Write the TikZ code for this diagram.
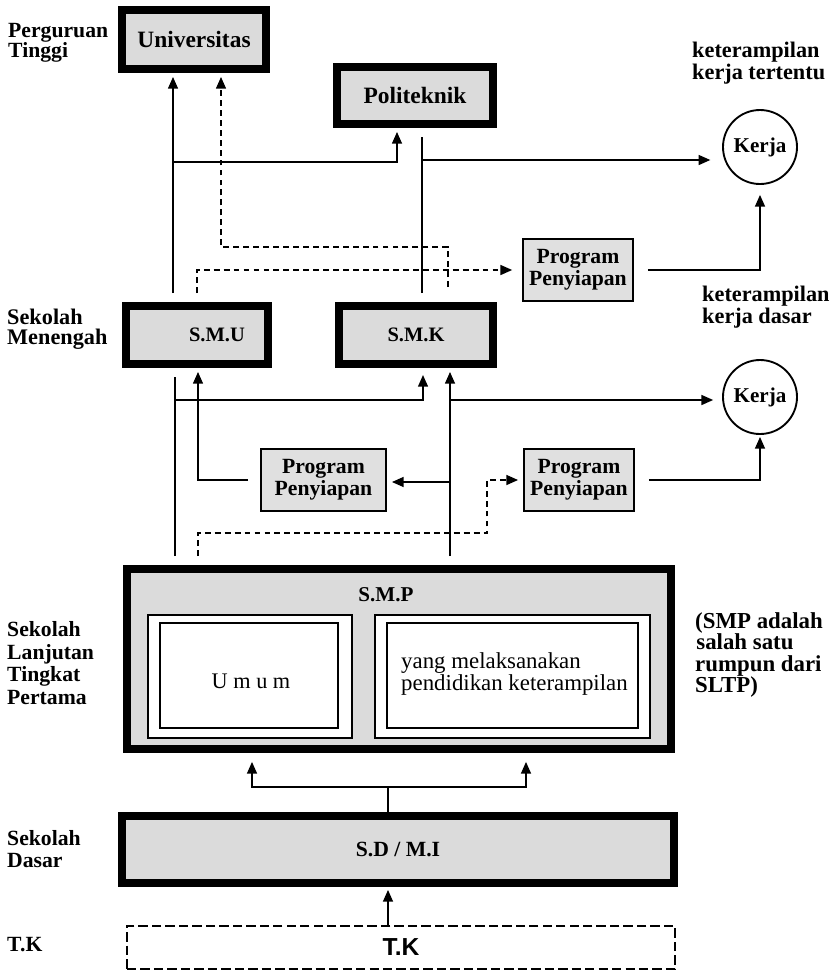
\documentclass[tikz,border=0pt]{standalone}
\usepackage{fontspec}
\setmainfont{Liberation Serif}
\newfontfamily\tksans{Liberation Sans}
\usetikzlibrary{arrows.meta}

\begin{document}
\begin{tikzpicture}[x=0.03cm,y=-0.03cm,
  thickbox/.style={draw, line width=6.8pt, fill=black!14, inner sep=0pt, font=\bfseries\fontsize{17.5}{17.5}\selectfont},
  progbox/.style={draw, line width=1.5pt, fill=black!12, inner sep=0pt, minimum width=3.3cm, minimum height=1.86cm, align=center, font=\bfseries\fontsize{18.5}{18.7}\selectfont},
  kerjanode/.style={draw, circle, line width=1.6pt, minimum size=2.22cm, inner sep=0pt, font=\bfseries\fontsize{18}{18}\selectfont},
  lbl/.style={anchor=west, align=left, inner sep=0pt, font=\bfseries\fontsize{18.5}{19.5}\selectfont},
  conn/.style={line width=1.3pt},
  arr/.style={conn, -{Triangle[length=10pt,width=8.5pt]}},
  dconn/.style={conn, dash pattern=on 5pt off 3.5pt},
  darr/.style={dconn, -{Triangle[length=10pt,width=8.5pt]}},
  subframe/.style={draw, line width=1.2pt, fill=white},
]
\fill[white] (0,0) rectangle (838,972);
\useasboundingbox (0,0) rectangle (838,972);

% boxes
\node[thickbox, minimum width=4.32cm, minimum height=1.77cm, font=\bfseries\fontsize{20}{20}\selectfont] (Univ) at (194,39.5) {Universitas};
\node[thickbox, minimum width=4.68cm, minimum height=1.71cm, font=\bfseries\fontsize{20}{20}\selectfont] (Poli) at (415,95.5) {Politeknik};
\node[thickbox, minimum width=4.26cm, minimum height=1.74cm] (SMU) at (197,335) {};
\node[font=\bfseries\fontsize{17.5}{17.5}\selectfont, inner sep=0pt] (SMUtxt) at (217,335) {S.M.U};
\node[thickbox, minimum width=4.62cm, minimum height=1.74cm] (SMK) at (416,335) {S.M.K};
\node[thickbox, minimum width=16.32cm, minimum height=5.4cm] (SMP) at (399,659) {};
\node[font=\bfseries\fontsize{18}{18}\selectfont, inner sep=0pt] (SMPtxt) at (386,595) {S.M.P};
\node[thickbox, minimum width=16.56cm, minimum height=2.01cm, font=\bfseries\fontsize{18.5}{18.5}\selectfont] (SD) at (398,849.5) {S.D / M.I};
\node[draw, line width=1.3pt, dash pattern=on 8pt off 3.5pt, minimum width=16.44cm, minimum height=1.29cm, inner sep=0pt, font=\tksans\bfseries\fontsize{21}{21}\selectfont] (TK) at (401,947.5) {T.K};

% inner frames of SMP
\draw[subframe] (148,615) rectangle (352,738);
\draw[subframe] (160,623) rectangle (338,728);
\draw[subframe] (375,615) rectangle (650,738);
\draw[subframe] (387,623) rectangle (638,728);
\node[inner sep=0pt, font=\fontsize{19}{19}\selectfont] (Umum) at (251,681) {U m u m};
\node[anchor=west, align=left, inner sep=0pt, font=\fontsize{19.5}{16.8}\selectfont] (Ket) at (401,674) {yang melaksanakan\\pendidikan keterampilan};

% program boxes
\node[progbox] (PP1) at (578,270) {Program\\Penyiapan};
\node[progbox, minimum width=3.75cm] (PP2) at (323.5,480) {Program\\Penyiapan};
\node[progbox] (PP3) at (579,480) {Program\\Penyiapan};

% kerja circles
\node[kerjanode] (K1) at (760,147) {Kerja};
\node[kerjanode] (K2) at (760,397) {Kerja};

% labels
\node[lbl, font=\bfseries\fontsize{18.5}{17.5}\selectfont] (LPT) at (8,43) {Perguruan\\Tinggi};
\node[lbl, font=\bfseries\fontsize{19}{17.5}\selectfont] (LSM) at (7,329) {Sekolah\\Menengah};
\node[lbl] (LSLTP) at (7,663) {Sekolah\\Lanjutan\\Tingkat\\Pertama};
\node[lbl] (LSD) at (7,849) {Sekolah\\Dasar};
\node[lbl] (LTK) at (7,945) {T.K};
\node[lbl, font=\bfseries\fontsize{19}{18.7}\selectfont] (LKT) at (692,63) {keterampilan\\kerja tertentu};
\node[lbl, font=\bfseries\fontsize{19}{18.7}\selectfont] (LKD) at (702,307) {keterampilan\\kerja dasar};
\node[lbl, font=\bfseries\fontsize{19.5}{18.4}\selectfont] (LSMP) at (695,655) {(SMP adalah\\\hspace*{1pt}salah satu\\rumpun dari\\SLTP)};

% column and junction coordinates
\coordinate (c173) at (173,0);
\coordinate (c175) at (175,0);
\coordinate (c197) at (197,0);
\coordinate (c198) at (198,0);
\coordinate (c252) at (252,0);
\coordinate (c388) at (388,0);
\coordinate (c397) at (397,0);
\coordinate (c422) at (422,0);
\coordinate (c423) at (423,0);
\coordinate (c448) at (448,0);
\coordinate (c450) at (450,0);
\coordinate (c526) at (526,0);
\coordinate (j1) at (173,162);
\coordinate (j2) at (422,160);
\coordinate (j3) at (221,247);
\coordinate (j4) at (175,400);
\coordinate (j5) at (450,400);
\coordinate (j6) at (450,482);
\coordinate (j7) at (487,533);
\coordinate (j8) at (388,787);

% top connectors
\draw[arr, shorten <=7.6pt, shorten >=3.4pt] (SMU.north -| c173) -- (Univ.south -| c173);
\draw[arr, shorten >=3.4pt] (j1) -| (Poli.south -| c397);
\draw[darr, shorten <=12.8pt, shorten >=3.4pt] (SMK.north -| c448) |- (j3) -- (Univ.south -| j3);
\draw[darr, shorten <=7.6pt, shorten >=8.5pt] (SMU.north -| c197) |- (PP1.west);
\draw[conn, shorten <=7.6pt, shorten >=7.6pt] (SMK.north -| c422) -- (Poli.south -| c422);
\draw[arr, shorten >=10pt] (j2) -- (K1.west |- j2);
\draw[arr, shorten <=11.9pt, shorten >=8.5pt] (PP1.east) -| (K1.south);

% middle connectors
\draw[conn, shorten <=7.6pt, shorten >=7.6pt] (SMP.north -| c175) -- (SMU.south -| c175);
\draw[arr, shorten >=6pt] (j4) -| (SMK.south -| c423);
\draw[arr, shorten <=7.6pt, shorten >=3.4pt] (SMP.north -| c450) -- (SMK.south -| c450);
\draw[arr, shorten >=7.6pt] (j5) -- (K2.west |- j5);
\draw[arr, shorten >=4.3pt] (j6) -- (PP2.east |- j6);
\draw[arr, shorten <=10.2pt, shorten >=3.4pt] (PP2.west) -| (SMU.south -| c198);
\draw[darr, shorten <=7.6pt, shorten >=4.3pt] (SMP.north -| c198) |- (j7) |- (PP3.west);
\draw[arr, shorten <=11.9pt, shorten >=1.7pt] (PP3.east) -| (K2.south);

% bottom connectors
\draw[conn] (SD.north -| c388) -- (j8);
\draw[arr, shorten >=7.6pt] (j8) -| (SMP.south -| c252);
\draw[arr, shorten >=7.6pt] (j8) -| (SMP.south -| c526);
\draw[arr, shorten >=2.5pt] (TK.north -| c388) -- (SD.south -| c388);
\end{tikzpicture}
\end{document}
